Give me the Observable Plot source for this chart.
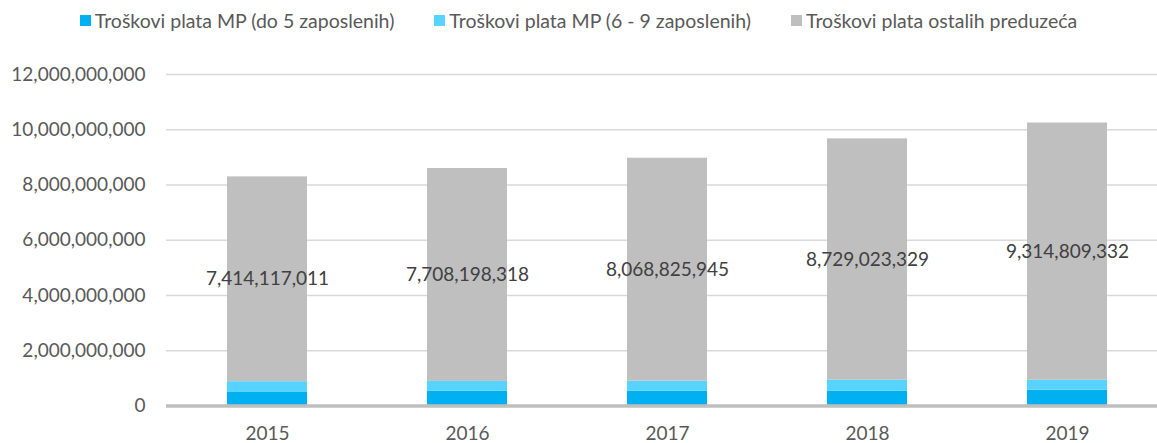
<!DOCTYPE html>
<html><head><meta charset="utf-8">
<script src="https://cdn.jsdelivr.net/npm/d3@7"></script>
<script src="https://cdn.jsdelivr.net/npm/@observablehq/plot@0.6"></script>
<style>
body{margin:0;background:#fff;font-family:Lato, sans-serif;}
#legend{height:40px;display:flex;justify-content:center;align-items:center;gap:40px;font-size:19.5px;color:#595959;}
.item{display:flex;align-items:center;}
.sw{width:11px;height:11px;margin-right:4px;}
</style></head><body>
<div id="legend"></div><div id="chart"></div>
<script>
const years = ["2015", "2016", "2017", "2018", "2019"];
const seriesNames = ["Troškovi plata MP (do 5 zaposlenih)", "Troškovi plata MP (6 - 9 zaposlenih)", "Troškovi plata ostalih preduzeća"];
const mp5 = [490000000, 540000000, 540000000, 540000000, 570000000];
const mp69 = [390000000, 350000000, 360000000, 400000000, 360000000];
const other = [7414117011, 7708198318, 8068825945, 8729023329, 9314809332];
const colors = ["#00B0F0", "#57D3FF", "#BFBFBF"];
const yTicks = [0, 2000000000, 4000000000, 6000000000, 8000000000, 10000000000, 12000000000];

const seriesValues = [mp5, mp69, other];
const data = [];
years.forEach((yr, i) => {
  seriesNames.forEach((s, j) => data.push({year: yr, series: s, value: seriesValues[j][i]}));
});

const legend = document.getElementById("legend");
seriesNames.forEach((s, j) => {
  const it = document.createElement("div"); it.className = "item";
  const sw = document.createElement("span"); sw.className = "sw"; sw.style.background = colors[j];
  const t = document.createElement("span"); t.textContent = s;
  it.append(sw, t); legend.append(it);
});

const fmt = d3.format(",");
const chart = Plot.plot({
  width: 1157, height: 403,
  marginLeft: 166, marginRight: 0, marginTop: 34, marginBottom: 37.5,
  style: {fontFamily: "Lato, sans-serif", fontSize: "19px", color: "#595959", background: "#fff"},
  x: {domain: years, range: [166, 1168], paddingInner: 0.6, paddingOuter: 0.3, label: null},
  y: {domain: [0, 12000000000], label: null},
  color: {domain: seriesNames, range: colors},
  marks: [
    Plot.ruleY(yTicks, {stroke: "#D9D9D9", strokeWidth: 1.3}),
    Plot.barY(data, {x: "year", y: "value", fill: "series", z: "series"}),
    Plot.ruleY([0], {stroke: "#BFBFBF", strokeWidth: 3.5}),
    Plot.axisY(yTicks, {tickSize: 0, tickPadding: 21, tickFormat: fmt, fill: "#595959", fontSize: 19, label: null}),
    Plot.axisX({tickSize: 0, tickPadding: 20, fill: "#595959", fontSize: 19, label: null}),
    Plot.text(data, Plot.stackY({x: "year", y: "value", z: "series",
      text: d => d.series === seriesNames[2] ? fmt(d.value) : null,
      fill: "#404040", fontSize: 19}))
  ]
});
document.getElementById("chart").append(chart);
</script>
</body></html>
